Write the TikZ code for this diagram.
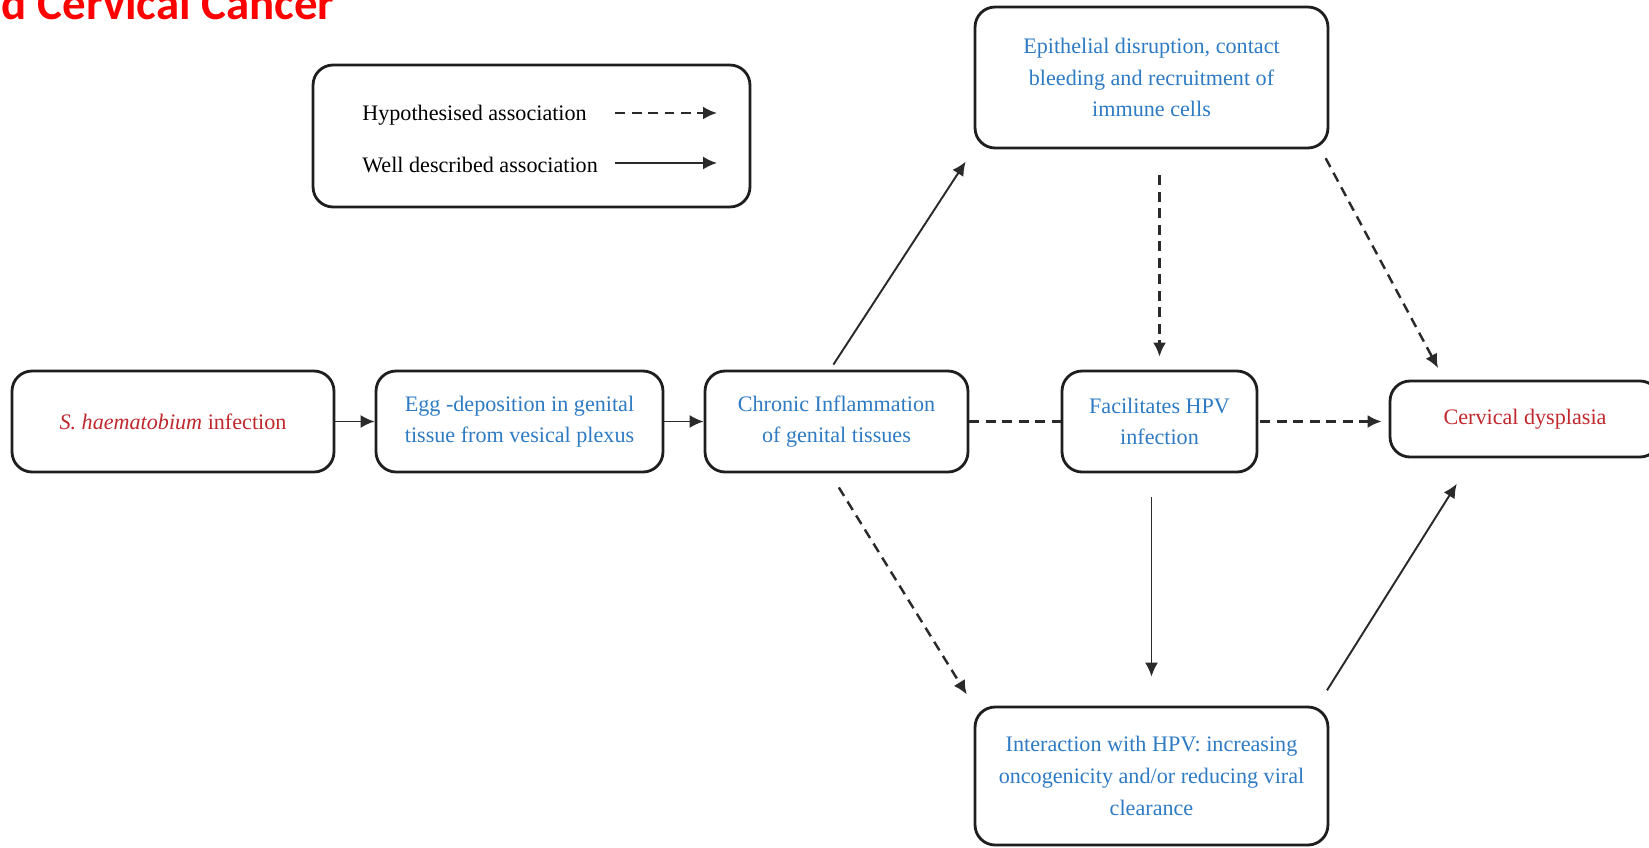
\documentclass[tikz,border=0pt]{standalone}
\usepackage{fontspec}
\setmainfont{Liberation Serif}
\newfontfamily\headfont{Carlito}
\usepackage{xcolor}
\usepackage{tikz}
\usetikzlibrary{arrows.meta,positioning}
\definecolor{scInk}{HTML}{1E1E1E}
\definecolor{scLine}{HTML}{2A2A2A}
\definecolor{scBlue}{HTML}{2E7BC4}
\definecolor{scRed}{HTML}{C0282D}
\definecolor{scHead}{HTML}{FF0000}
\tikzset{
  sc diagram/.style={x=0.02cm, y=-0.02cm,
    font=\fontsize{12.6}{18}\selectfont, line join=round},
  sc box/.style={draw=scInk, fill=white, line width=1.6pt,
    rounded corners=0.4cm, align=center, inner sep=4pt,
    minimum height=2.02cm, text=scBlue},
  sc red box/.style={sc box, text=scRed},
  sc arrow/.style={-{Latex[length=0.28cm,width=0.26cm]}, draw=scLine,
    line width=1.1pt},
  sc hypothesis/.style={sc arrow, line width=1.4pt,
    dash pattern=on 0.2cm off 0.13cm},
  sc hypothesis line/.style={sc hypothesis, -},
  sc key/.style={anchor=base west, text=black, inner sep=0pt}
}

\begin{document}
\begin{tikzpicture}[sc diagram]
\useasboundingbox (0,0) rectangle (1649,848);
\clip (0,0) rectangle (1649,848);

\node[anchor=base east, inner sep=0pt, text=scHead,
  font=\headfont\bfseries\fontsize{26.7}{30}\selectfont] (title) at (335,20) {d Cervical Cancer};

% legend
\node[sc box, minimum width=8.74cm, minimum height=2.84cm] (legend) at (531.5,136) {};
\node[sc key] (hypo key) at (362,120) {Hypothesised association};
\node[sc key] (well key) at (362,172) {Well described association};
\coordinate (hypo from) at (615,113);
\coordinate (hypo to) at (717,113);
\coordinate (well from) at (615,163);
\coordinate (well to) at (717,163);
\draw[sc hypothesis] (hypo from) -- (hypo to);
\draw[sc arrow] (well from) -- (well to);

% main chain
\node[sc red box, minimum width=6.44cm] (infection) at (173,421.5) {\textit{S. haematobium} infection};
\node[sc box, minimum width=5.74cm] (eggs) at (519.5,421.5) {Egg -deposition in genital\\tissue from vesical plexus};
\node[sc box, minimum width=5.26cm] (inflammation) at (836.5,421.5) {Chronic Inflammation\\of genital tissues};
\node[sc box, minimum width=3.9cm] (hpv) at (1159.5,421.5) {Facilitates HPV\\infection};
\node[sc red box, minimum width=5.4cm, minimum height=1.52cm] (dysplasia) at (1525,419) {Cervical dysplasia};
\node[sc box, minimum width=7.06cm, minimum height=2.82cm] (epithelium) at (1151.5,77.5)
  {Epithelial disruption, contact\\bleeding and recruitment of\\immune cells};
\node[sc box, minimum width=7.06cm, minimum height=2.76cm] (interaction) at (1151.5,776)
  {Interaction with HPV: increasing\\oncogenicity and/or reducing viral\\clearance};

\draw[sc arrow] (infection.east) -- (eggs.west);
\draw[sc arrow] (eggs.west -| eggs.east) -- (inflammation.west);
\draw[sc arrow, shorten <=0.12cm, shorten >=0.29cm] (inflammation.97) -- (epithelium.south west);
\draw[sc hypothesis, shorten <=0.33cm, shorten >=0.26cm] (inflammation.263) -- (interaction.north west);
\draw[sc hypothesis line] (inflammation.east) -- (hpv.west);
\draw[sc hypothesis, shorten <=0.52cm, shorten >=0.26cm] (epithelium.south -| hpv.north) -- (hpv.north);
\draw[sc arrow, shorten <=0.48cm, shorten >=0.58cm] (hpv.south -| interaction.north) -- (interaction.north);
\draw[sc hypothesis, shorten <=0.04cm, shorten >=0.14cm] (hpv.east) -- (hpv.east -| dysplasia.west);
\draw[sc hypothesis, shorten <=0.2cm, shorten >=0.26cm] (epithelium.-23) -- (dysplasia.154);
\draw[sc arrow, shorten <=0.36cm, shorten >=0.6cm] (interaction.23) -- (dysplasia.217);
\end{tikzpicture}
\end{document}
